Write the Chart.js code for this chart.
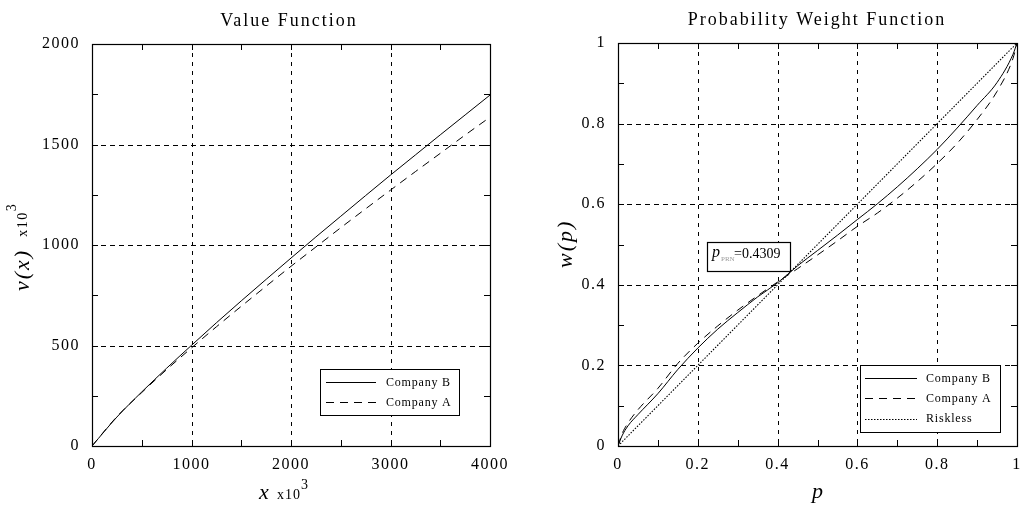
<!DOCTYPE html>
<html>
<head>
<meta charset="utf-8">
<script src="https://cdn.jsdelivr.net/npm/chart.js@4.4.1/dist/chart.umd.min.js"></script>
<style>
  html, body { margin: 0; padding: 0; background: #fff; }
  #wrap { position: relative; width: 1030px; height: 505px; background: #fff; overflow: hidden; }
  canvas { position: absolute; top: 0; }
  #c1 { left: 0; }
  #c2 { left: 520px; }
</style>
</head>
<body>
<div id="wrap">
  <canvas id="c1" width="515" height="505"></canvas>
  <canvas id="c2" width="510" height="505"></canvas>
</div>
<script>
// ---------------- DATA ----------------
// Value function (x and v(x) in units of 10^3)
const valueX = [0, 250, 500, 750, 1000, 1250, 1500, 1750, 2000, 2250, 2500, 2750, 3000, 3250, 3500, 3750, 4000];
const valueCompanyB = [0, 144, 269, 387, 501, 613, 722, 829, 935, 1040, 1143, 1246, 1348, 1448, 1548, 1647, 1746];
const valueCompanyA = [0, 146, 266, 380, 488, 593, 695, 795, 894, 990, 1086, 1180, 1273, 1365, 1456, 1547, 1636];
const valueXTicks = [0, 1000, 2000, 3000, 4000];
const valueXTickLabels = ['0', '1000', '2000', '3000', '4000'];
const valueYTicks = [0, 500, 1000, 1500, 2000];
const valueYTickLabels = ['0', '500', '1000', '1500', '2000'];

// Probability weight function
const probP = [0, 0.01, 0.025, 0.05, 0.1, 0.15, 0.2, 0.25, 0.3, 0.35, 0.4, 0.45, 0.5, 0.55, 0.6, 0.65, 0.7, 0.75, 0.8, 0.85, 0.9, 0.95, 0.99, 1];
const probCompanyB = [0, 0.025, 0.05, 0.078, 0.13, 0.19, 0.243, 0.29, 0.331, 0.37, 0.405, 0.447, 0.485, 0.523, 0.562, 0.601, 0.643, 0.688, 0.736, 0.789, 0.845, 0.902, 0.972, 1];
const probCompanyA = [0, 0.03, 0.057, 0.09, 0.143, 0.205, 0.255, 0.298, 0.337, 0.373, 0.407, 0.44, 0.474, 0.509, 0.545, 0.578, 0.615, 0.656, 0.701, 0.751, 0.81, 0.88, 0.962, 1];
const probRiskless = [0, 0.01, 0.025, 0.05, 0.1, 0.15, 0.2, 0.25, 0.3, 0.35, 0.4, 0.45, 0.5, 0.55, 0.6, 0.65, 0.7, 0.75, 0.8, 0.85, 0.9, 0.95, 0.99, 1];
const probTicks = [0, 0.2, 0.4, 0.6, 0.8, 1];
const probTickLabels = ['0', '0.2', '0.4', '0.6', '0.8', '1'];
const pPRNValue = '0.4309';

// ---------------- HELPERS ----------------
const SERIF = '"Liberation Serif", "Times New Roman", serif';
const pts = (xs, ys) => xs.map((v, i) => ({ x: v, y: ys[i] }));
const DASH_A = [8, 6];
const DOT_R = [1.5, 1.5];

function makeDecor(cfg) {
  return {
    id: 'decor',
    beforeDraw(chart) {
      chart.ctx.letterSpacing = '1.5px';
    },
    beforeDatasetsDraw(chart) {
      const { ctx, chartArea: a, scales: { x, y } } = chart;
      ctx.save();
      ctx.letterSpacing = '0px';
      ctx.strokeStyle = '#000';
      ctx.lineWidth = 1;
      ctx.setLineDash(cfg.vDash);
      cfg.gridX.forEach(v => {
        const px = Math.round(x.getPixelForValue(v)) + 0.5;
        ctx.beginPath(); ctx.moveTo(px, a.top); ctx.lineTo(px, a.bottom); ctx.stroke();
      });
      ctx.setLineDash(cfg.hDash);
      cfg.gridY.forEach(v => {
        const py = Math.round(y.getPixelForValue(v)) + 0.5;
        ctx.beginPath(); ctx.moveTo(a.left, py); ctx.lineTo(a.right, py); ctx.stroke();
      });
      ctx.restore();
    },
    afterDatasetsDraw(chart) {
      const { ctx, chartArea: a, scales: { x, y } } = chart;
      ctx.save();
      ctx.letterSpacing = '0px';
      ctx.strokeStyle = '#000';
      ctx.lineWidth = 1;
      ctx.setLineDash([]);
      // ticks (inward, all four sides)
      const L = 6;
      cfg.tickX.forEach(v => {
        const px = Math.round(x.getPixelForValue(v)) + 0.5;
        ctx.beginPath();
        ctx.moveTo(px, a.bottom); ctx.lineTo(px, a.bottom - L);
        ctx.moveTo(px, a.top); ctx.lineTo(px, a.top + L);
        ctx.stroke();
      });
      cfg.tickY.forEach(v => {
        const py = Math.round(y.getPixelForValue(v)) + 0.5;
        ctx.beginPath();
        ctx.moveTo(a.left, py); ctx.lineTo(a.left + L, py);
        ctx.moveTo(a.right, py); ctx.lineTo(a.right - L, py);
        ctx.stroke();
      });
      // frame
      const l = Math.round(a.left) + 0.5, t = Math.round(a.top) + 0.5;
      const r = Math.round(a.right) + 0.5, b = Math.round(a.bottom) + 0.5;
      ctx.lineWidth = 1.2;
      ctx.strokeRect(l, t, r - l, b - t);

      // legend
      const lg = cfg.legend;
      ctx.fillStyle = '#fff';
      ctx.fillRect(lg.box[0], lg.box[1], lg.box[2] - lg.box[0], lg.box[3] - lg.box[1]);
      ctx.lineWidth = 1;
      ctx.strokeRect(lg.box[0] + 0.5, lg.box[1] + 0.5, lg.box[2] - lg.box[0], lg.box[3] - lg.box[1]);
      lg.items.forEach(it => {
        ctx.setLineDash(it.dash);
        ctx.beginPath();
        ctx.moveTo(lg.lineX0, it.y + 0.5); ctx.lineTo(lg.lineX1, it.y + 0.5);
        ctx.stroke();
        ctx.setLineDash([]);
        ctx.fillStyle = '#000';
        ctx.font = '12px ' + SERIF;
        ctx.letterSpacing = '0.8px';
        ctx.textAlign = 'left';
        ctx.textBaseline = 'alphabetic';
        ctx.fillText(it.label, lg.textX, it.base);
      });

      // annotation box
      if (cfg.note) {
        const n = cfg.note;
        ctx.fillStyle = '#fff';
        ctx.fillRect(n.box[0], n.box[1], n.box[2] - n.box[0], n.box[3] - n.box[1]);
        ctx.lineWidth = 1.2;
        ctx.strokeStyle = '#000';
        ctx.strokeRect(n.box[0] + 0.5, n.box[1] + 0.5, n.box[2] - n.box[0], n.box[3] - n.box[1]);
        ctx.letterSpacing = '0px';
        ctx.textAlign = 'left';
        ctx.fillStyle = '#000';
        ctx.font = 'italic 16px ' + SERIF;
        ctx.fillText('p', n.box[0] + 5, n.box[1] + 15);
        ctx.fillStyle = '#999';
        ctx.font = '7px ' + SERIF;
        ctx.fillText('PRN', n.box[0] + 14, n.box[1] + 19);
        ctx.fillStyle = '#000';
        ctx.font = '14px ' + SERIF;
        ctx.fillText('=' + n.value, n.box[0] + 27, n.box[1] + 16);
      }
      ctx.restore();
    },
    afterDraw(chart) {
      const { ctx } = chart;
      ctx.save();
      ctx.fillStyle = '#000';
      ctx.textBaseline = 'alphabetic';
      // chart title
      ctx.font = '18px ' + SERIF;
      ctx.letterSpacing = '2px';
      ctx.textAlign = 'center';
      ctx.fillText(cfg.title, cfg.titleX, cfg.titleY);
      // x axis title
      ctx.textAlign = 'left';
      ctx.font = 'italic 22px ' + SERIF;
      ctx.letterSpacing = '1px';
      ctx.fillText(cfg.xTitle, cfg.xTitleX, cfg.xTitleY);
      if (cfg.xUnit) {
        ctx.font = '14px ' + SERIF;
        ctx.letterSpacing = '1px';
        ctx.fillText('x10', cfg.xUnitX, cfg.xTitleY);
        const w = ctx.measureText('x10').width;
        ctx.fillText('3', cfg.xUnitX + w, cfg.xTitleY - 10);
      }
      // y axis title (rotated)
      ctx.translate(cfg.yTitleBase, cfg.yTitleStart);
      ctx.rotate(-Math.PI / 2);
      ctx.font = 'italic 22px ' + SERIF;
      ctx.letterSpacing = '2px';
      ctx.fillText(cfg.yTitle, 0, 0);
      if (cfg.yUnit) {
        const w0 = ctx.measureText(cfg.yTitle).width;
        ctx.font = '14px ' + SERIF;
        ctx.letterSpacing = '1.5px';
        const ux = w0 + 12;
        ctx.fillText('x10', ux, -2);
        const w = ctx.measureText('x10').width;
        ctx.font = '14px ' + SERIF;
        ctx.fillText('3', ux + w, -13);
      }
      ctx.restore();
    }
  };
}

function axisOpts(min, max, tickVals, tickLabels, isX, fitSize) {
  return {
    type: 'linear',
    min: min, max: max,
    grid: { display: false, drawTicks: false },
    border: { display: false },
    afterBuildTicks: s => { s.ticks = tickVals.map(v => ({ value: v })); },
    afterFit: s => { if (isX) { s.height = fitSize; } else { s.width = fitSize; } },
    ticks: {
      autoSkip: false,
      maxRotation: 0,
      color: '#000',
      font: { family: SERIF, size: 16 },
      padding: isX ? 9 : 12,
      callback: (v, i) => tickLabels[i]
    }
  };
}

function lineDs(label, data, dash, width) {
  return {
    label: label,
    data: data,
    showLine: true,
    borderColor: '#000',
    borderWidth: width || 1,
    borderDash: dash,
    pointRadius: 0,
    fill: false,
    cubicInterpolationMode: 'monotone'
  };
}

// ---------------- CHART 1: Value Function ----------------
new Chart(document.getElementById('c1'), {
  type: 'scatter',
  data: {
    datasets: [
      lineDs('Company B', pts(valueX, valueCompanyB), []),
      lineDs('Company A', pts(valueX, valueCompanyA), DASH_A)
    ]
  },
  options: {
    responsive: false,
    animation: false,
    devicePixelRatio: 1,
    layout: { padding: { top: 44, right: 21, left: 0, bottom: 0 } },
    scales: {
      x: axisOpts(0, 4000, valueXTicks, valueXTickLabels, true, 59),
      y: axisOpts(0, 2000, valueYTicks, valueYTickLabels, false, 92)
    },
    plugins: { legend: { display: false }, title: { display: false }, tooltip: { enabled: false } }
  },
  plugins: [makeDecor({
    vDash: [4, 5], hDash: [5, 4],
    gridX: [1000, 2000, 3000], gridY: [500, 1000, 1500],
    tickX: [500, 1000, 1500, 2000, 2500, 3000, 3500],
    tickY: [250, 500, 750, 1000, 1250, 1500, 1750],
    legend: {
      box: [320, 369, 459, 415],
      lineX0: 326, lineX1: 376, textX: 386,
      items: [
        { label: 'Company B', dash: [], y: 382, base: 386 },
        { label: 'Company A', dash: DASH_A, y: 402, base: 406 }
      ]
    },
    title: 'Value Function', titleX: 289, titleY: 26,
    xTitle: 'x', xTitleX: 259, xTitleY: 499, xUnit: true, xUnitX: 277,
    yTitle: 'v(x)', yTitleBase: 29, yTitleStart: 291, yUnit: true
  })]
});

// ---------------- CHART 2: Probability Weight Function ----------------
new Chart(document.getElementById('c2'), {
  type: 'scatter',
  data: {
    datasets: [
      lineDs('Company B', pts(probP, probCompanyB), []),
      lineDs('Company A', pts(probP, probCompanyA), DASH_A),
      lineDs('Riskless', pts(probP, probRiskless), DOT_R, 1.1)
    ]
  },
  options: {
    responsive: false,
    animation: false,
    devicePixelRatio: 1,
    layout: { padding: { top: 43, right: 8, left: 0, bottom: 0 } },
    scales: {
      x: axisOpts(0, 1, probTicks, probTickLabels, true, 59),
      y: axisOpts(0, 1, probTicks, probTickLabels, false, 98)
    },
    plugins: { legend: { display: false }, title: { display: false }, tooltip: { enabled: false } }
  },
  plugins: [makeDecor({
    vDash: [4, 5], hDash: [5, 4],
    gridX: [0.2, 0.4, 0.6, 0.8], gridY: [0.2, 0.4, 0.6, 0.8],
    tickX: [0.1, 0.2, 0.3, 0.4, 0.5, 0.6, 0.7, 0.8, 0.9],
    tickY: [0.1, 0.2, 0.3, 0.4, 0.5, 0.6, 0.7, 0.8, 0.9],
    legend: {
      box: [340, 365, 480, 432],
      lineX0: 345, lineX1: 397, textX: 406,
      items: [
        { label: 'Company B', dash: [], y: 378, base: 382 },
        { label: 'Company A', dash: DASH_A, y: 398, base: 402 },
        { label: 'Riskless', dash: DOT_R, y: 419, base: 422 }
      ]
    },
    note: { box: [187, 242, 270, 271], value: pPRNValue },
    title: 'Probability Weight Function', titleX: 297, titleY: 25,
    xTitle: 'p', xTitleX: 292, xTitleY: 498, xUnit: false,
    yTitle: 'w(p)', yTitleBase: 52, yTitleStart: 268, yUnit: false
  })]
});
</script>
</body>
</html>
